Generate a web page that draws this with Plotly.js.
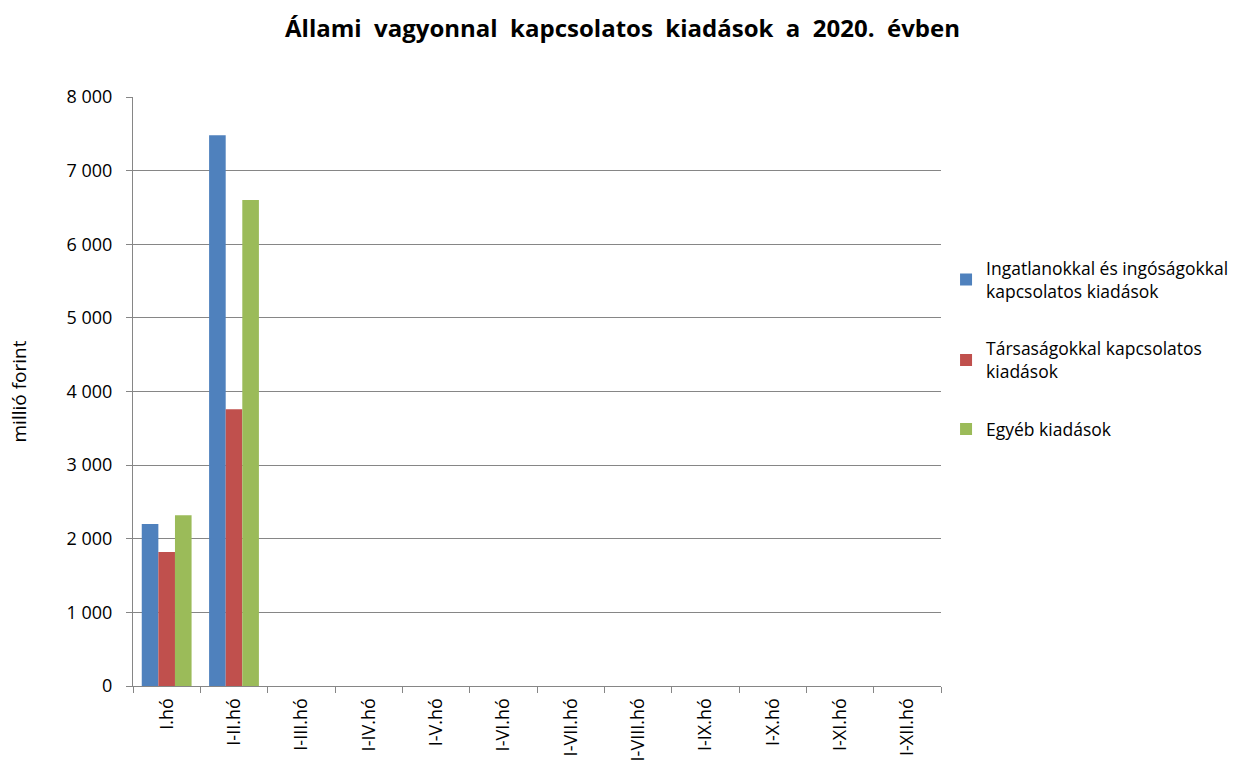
<!DOCTYPE html>
<html>
<head>
<meta charset="utf-8">
<script src="https://cdn.plot.ly/plotly-3.0.1.min.js"></script>
<style>
  html, body { margin:0; padding:0; background:#fff; overflow:hidden; }
  #chart { width:1245px; height:774px; }
</style>
</head>
<body>
<div id="chart"></div>
<script>
  // months (cumulative periods)
  const months = ['I.hó','I-II.hó','I-III.hó','I-IV.hó','I-V.hó','I-VI.hó','I-VII.hó','I-VIII.hó','I-IX.hó','I-X.hó','I-XI.hó','I-XII.hó'];
  const seriesNames = [
    'Ingatlanokkal és ingóságokkal<br>kapcsolatos kiadások',
    'Társaságokkal kapcsolatos<br>kiadások',
    'Egyéb kiadások'
  ];
  // millió forint, only first two periods have data
  const ingatlan = [2200, 7480, null, null, null, null, null, null, null, null, null, null];
  const tarsasag = [1820, 3760, null, null, null, null, null, null, null, null, null, null];
  const egyeb    = [2320, 6600, null, null, null, null, null, null, null, null, null, null];
  const yTicks = [0,1000,2000,3000,4000,5000,6000,7000,8000];
  const yTickText = ['0','1 000','2 000','3 000','4 000','5 000','6 000','7 000','8 000'];

  const colors = ['#4f81bd','#c0504d','#9bbb59'];
  const values = [ingatlan, tarsasag, egyeb];

  const traces = values.map((v,i)=>({
    type:'bar',
    x: months,
    y: v,
    name: seriesNames[i],
    legendgroup: 'g'+i,
    marker:{color: colors[i], line:{width:0}}
  }));

  const FONT = '"Open Sans", "Noto Sans", sans-serif';

  const layout = {
    width:1245, height:774,
    paper_bgcolor:'#fff', plot_bgcolor:'#fff',
    font:{family:FONT, color:'#000', size:18},
    title:{text:'<b>Állami  vagyonnal  kapcsolatos  kiadások  a  2020.  évben</b>', x:0.5, xanchor:'center', y:0.974, font:{size:24, family:FONT}},
    margin:{l:133, r:303, t:97, b:88},
    barmode:'group',
    bargap:0.26,
    bargroupgap:0,
    showlegend:true,
    legend:{x:1.005, xanchor:'left', y:0.74, yanchor:'top', font:{size:17.5}, tracegroupgap:32, itemwidth:30, traceorder:'grouped'},
    xaxis:{
      type:'category',
      tickangle:-90,
      automargin:false,
      showline:true, linecolor:'#868686', linewidth:1,
      ticks:'outside', tickson:'boundaries', ticklen:6, tickcolor:'#868686',
      showgrid:false,
      tickfont:{size:18},
      ticklabelstandoff:4,
      fixedrange:true
    },
    yaxis:{
      range:[0,8000],
      automargin:false,
      tickvals:yTicks, ticktext:yTickText,
      showline:true, linecolor:'#868686', linewidth:1,
      ticks:'outside', ticklen:6, tickcolor:'#868686',
      showgrid:true, gridcolor:'#868686', gridwidth:1,
      zeroline:false,
      tickfont:{size:18},
      ticklabelstandoff:10,
      title:{text:'millió forint', font:{size:19}, standoff:34},
      fixedrange:true
    }
  };

  Plotly.newPlot('chart', traces, layout, {displayModeBar:false, staticPlot:true});
</script>
</body>
</html>
